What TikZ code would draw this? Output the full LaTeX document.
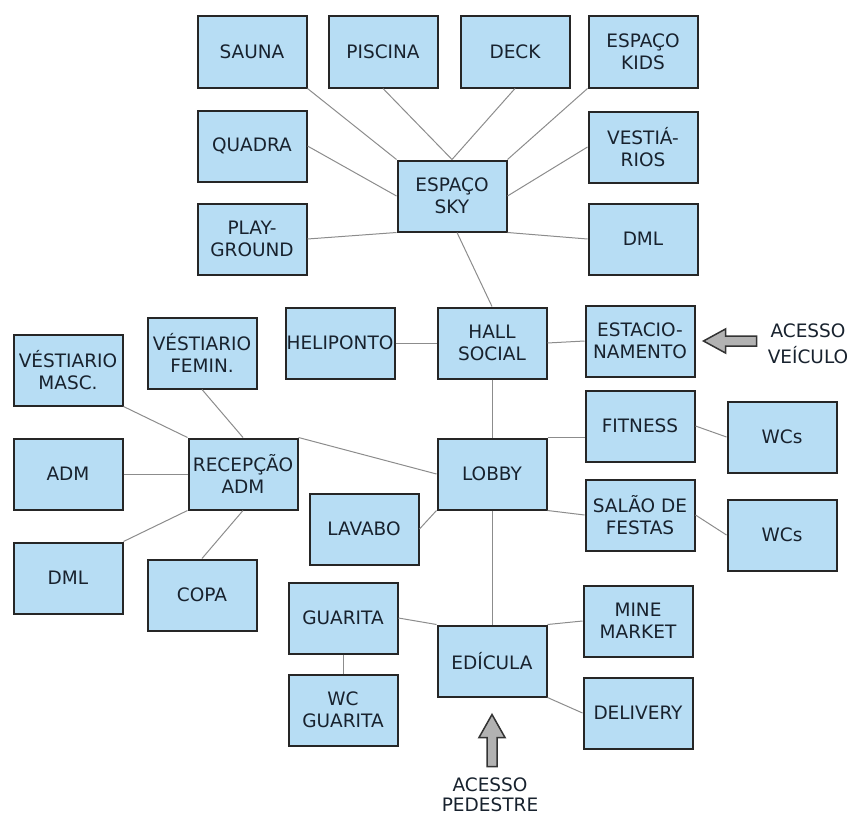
\documentclass[tikz,border=0pt]{standalone}
\usepackage{fontspec}
\setmainfont{DejaVu Sans}
\usepackage{xcolor}
\usetikzlibrary{positioning, calc}

\definecolor{roomblue}{HTML}{B7DDF4}
\definecolor{roomtext}{HTML}{18222E}
\definecolor{linkgray}{HTML}{8C8C8C}

\begin{document}
\begin{tikzpicture}[x=1pt, y=-1pt,
    room/.style={draw=black!85, line width=2pt, rectangle, fill=roomblue, text=roomtext,
      minimum width=109pt, minimum height=71pt, align=center, inner sep=1pt,
      font=\fontsize{18.5}{22}\selectfont},
    link/.style={draw=linkgray, line width=1pt},
    blockarrow/.style={draw=black!80, line width=1.5pt, fill=black!30, line join=miter},
    label/.style={text=roomtext, align=center, inner sep=0pt, font=\fontsize{18.5}{24}\selectfont}]
      \useasboundingbox (0,0) rectangle (851,816);

      % Espaco sky rooms
      \node[room] (sauna) at (252, 52) {SAUNA};
      \node[room] (piscina) at (383, 52) {PISCINA};
      \node[room] (deck) at (515, 52) {DECK};
      \node[room] (kids) at (643, 52) {ESPAÇO\\KIDS};
      \node[room] (quadra) at (252, 146) {QUADRA};
      \node[room] (sky) at (452, 196) {ESPAÇO\\SKY};
      \node[room] (vestiarios) at (643, 147) {VESTIÁ-\\RIOS};
      \node[room] (playground) at (252, 239) {PLAY-\\GROUND};
      \node[room] (dmlsky) at (643, 239) {DML};

      % Hall and lobby
      \node[room] (heliponto) at (340, 343) {HELIPONTO};
      \node[room] (hall) at (492, 343) {HALL\\SOCIAL};
      \node[room] (estac) at (640, 341) {ESTACIO-\\NAMENTO};
      \node[room] (lobby) at (492, 474) {LOBBY};
      \node[room] (fitness) at (640, 426) {FITNESS};
      \node[room] (wcfit) at (782, 437) {WCs};
      \node[room] (salao) at (640, 515) {SALÃO DE\\FESTAS};
      \node[room] (wcsalao) at (782, 535) {WCs};
      \node[room] (lavabo) at (364, 529) {LAVABO};

      % Administration
      \node[room] (masc) at (68, 370) {VÉSTIARIO\\MASC.};
      \node[room] (femin) at (202, 353) {VÉSTIARIO\\FEMIN.};
      \node[room] (adm) at (68, 474) {ADM};
      \node[room] (recep) at (243, 474) {RECEPÇÃO\\ADM};
      \node[room] (dmladm) at (68, 578) {DML};
      \node[room] (copa) at (202, 595) {COPA};

      % Entrance
      \node[room] (guarita) at (343, 618) {GUARITA};
      \node[room] (wcguarita) at (343, 710) {WC\\GUARITA};
      \node[room] (edicula) at (492, 661) {EDÍCULA};
      \node[room] (mine) at (638, 621) {MINE\\MARKET};
      \node[room] (delivery) at (638, 713) {DELIVERY};

      % Access labels
      \node[label, font=\fontsize{18.5}{26}\selectfont] (veiculo) at (808, 344) {ACESSO\\VEÍCULO};
      \node[label, font=\fontsize{18.5}{20}\selectfont] (pedestre) at (490, 795) {ACESSO\\PEDESTRE};

      % Links
      \draw[link] (sauna.south east) -- (sky.north west);
      \draw[link] (piscina.south) -- (sky.north);
      \draw[link] (deck.south) -- (sky.north);
      \draw[link] (kids.south west) -- (sky.north east);
      \draw[link] (quadra.east) -- (sky.west);
      \draw[link] (vestiarios.west) -- (sky.east);
      \draw[link] (playground.east) -- (sky.south west);
      \draw[link] (sky.south east) -- (dmlsky.west);
      \draw[link] ([xshift=5pt]sky.south) -- (hall.north);
      \draw[link] (heliponto.east) -- (hall.west);
      \draw[link] (hall.east) -- (estac.west);
      \draw[link] (hall.south) -- (lobby.north);
      \draw[link] (lobby.north east) -- (lobby.north east -| fitness.west);
      \draw[link] (fitness.east) -- (wcfit.west);
      \draw[link] (lobby.south east) -- (salao.west);
      \draw[link] (salao.east) -- (wcsalao.west);
      \draw[link] (lavabo.east) -- (lobby.south west);
      \draw[link] (recep.north east) -- (lobby.west);
      \draw[link] (masc.south east) -- (recep.north west);
      \draw[link] (femin.south) -- (recep.north);
      \draw[link] (adm.east) -- (recep.west);
      \draw[link] (dmladm.north east) -- (recep.south west);
      \draw[link] (copa.north) -- (recep.south);
      \draw[link] (lobby.south) -- (edicula.north);
      \draw[link] (guarita.east) -- (edicula.north west);
      \draw[link] (mine.west) -- (edicula.north east);
      \draw[link] (edicula.south east) -- (delivery.west);
      \draw[link] (guarita.south) -- (wcguarita.north);

      % Access arrows
      \coordinate (vtip) at ([xshift=8pt]estac.east);
      \draw[blockarrow] (vtip) -- ++(22,-12) -- ++(0,7) -- ++(31,0) -- ++(0,10)
        -- ++(-31,0) -- ++(0,7) -- cycle;
      \coordinate (ptip) at ([yshift=-17pt]edicula.south);
      \draw[blockarrow] (ptip) -- ++(-13,23) -- ++(8,0) -- ++(0,29) -- ++(10,0)
        -- ++(0,-29) -- ++(8,0) -- cycle;
\end{tikzpicture}
\end{document}
